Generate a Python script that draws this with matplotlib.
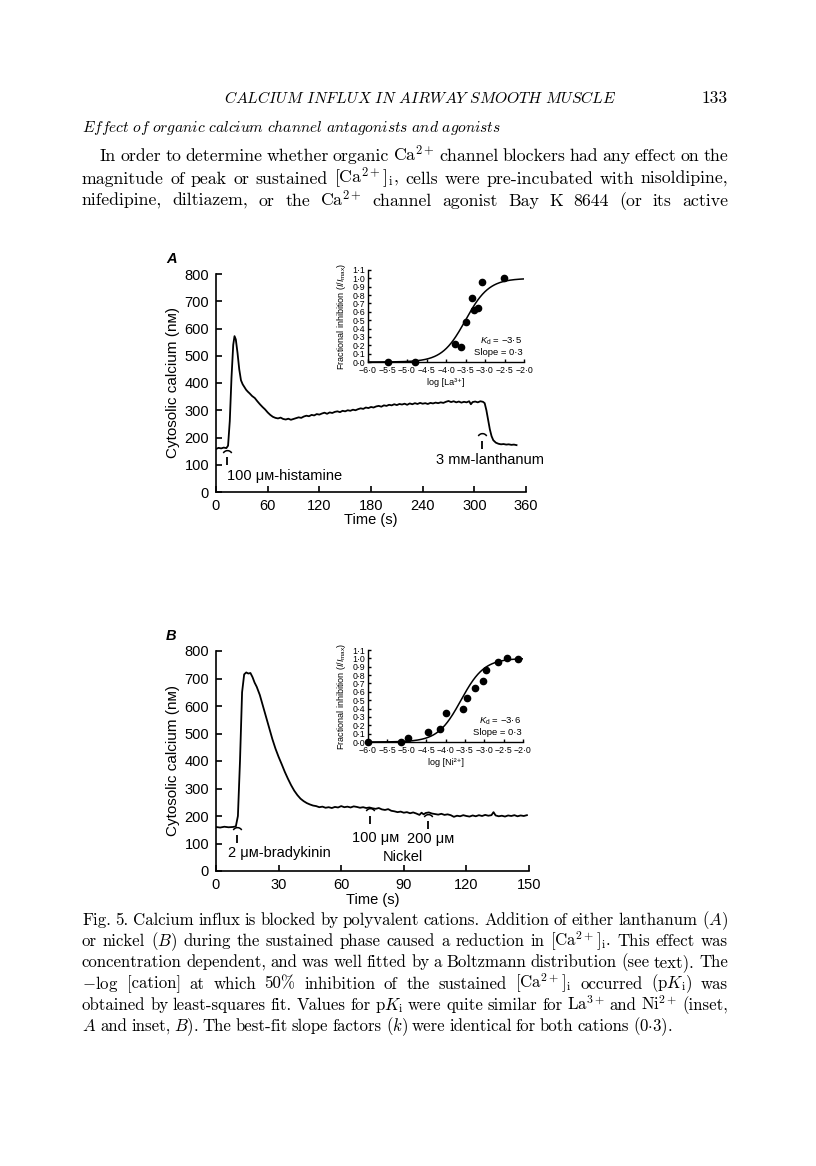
import numpy as np
import matplotlib.pyplot as plt
from matplotlib.path import Path

# ---- panel A trace: 100 uM histamine, then 3 mM lanthanum
tA = [0, 3, 6, 9, 12, 14, 16, 18, 20, 21.5, 23, 25, 27, 29, 31, 33, 35, 37, 39, 42,
      45, 48, 51, 54, 57, 60, 63, 66, 69, 72, 75, 78, 81, 84, 87, 90, 93, 96, 99, 102,
      105, 108, 111, 114, 117, 120, 123, 126, 129, 132, 135, 138, 141, 144, 147, 150,
      153, 156, 159, 162, 165, 168, 171, 174, 177, 180, 183, 186, 189, 192, 195, 198,
      201, 204, 207, 210, 213, 216, 219, 222, 225, 228, 231, 234, 237, 240, 243, 246,
      249, 252, 255, 258, 261, 264, 267, 270, 273, 276, 279, 282, 285, 288, 291, 294,
      296, 298, 301, 304, 307, 310, 312, 314, 316, 318, 320, 322, 325, 328, 331, 334,
      337, 340, 343, 346, 349]
cA = [158, 162, 160, 163, 161, 170, 260, 420, 540, 572, 560, 510, 450, 410, 395, 385,
      375, 368, 362, 352, 345, 333, 322, 312, 303, 292, 283, 276, 272, 270, 273, 268,
      266, 269, 265, 268, 271, 274, 272, 277, 280, 278, 283, 281, 286, 284, 288, 291,
      287, 292, 290, 294, 296, 293, 298, 296, 300, 298, 302, 300, 304, 307, 305, 310,
      308, 312, 310, 314, 316, 313, 318, 316, 320, 318, 322, 319, 323, 321, 324, 320,
      325, 322, 326, 323, 327, 324, 326, 323, 327, 325, 328, 326, 329, 327, 331, 334,
      330, 333, 329, 332, 328, 331, 329, 333, 322, 330, 332, 329, 333, 331, 326, 300,
      265, 230, 205, 190, 181, 177, 175, 176, 174, 175, 173, 174, 172]

# ---- panel B trace: 2 uM bradykinin, then 100 / 200 uM nickel
tB = [0, 2, 4, 6, 8, 9.5, 10.5, 11.5, 12.5, 13.5, 14.5, 15.5, 16.5, 17.5, 18.5, 19.5,
      21, 22.5, 24, 25.5, 27, 28.5, 30, 31.5, 33, 34.5, 36, 37.5, 39, 40.5, 42, 43.5,
      45, 46.5, 48, 49.5, 51, 52.5, 54, 55.5, 57, 58.5, 60, 61.5, 63, 64.5, 66, 67.5,
      69, 70.5, 72, 73.5, 75, 76.5, 78, 79.5, 81, 82.5, 84, 85.5, 87, 88.5, 90, 91.5,
      93, 94.5, 96, 97.5, 98.5, 99.5, 100.5, 102, 103.5, 105, 106.5, 108, 109.5, 111,
      112.5, 114, 115.5, 117, 118.5, 120, 121.5, 123, 124.5, 126, 127.5, 129, 130.5,
      132, 133, 134, 135.5, 137, 138.5, 140, 141.5, 143, 144.5, 146, 147.5, 149]
cB = [160, 158, 161, 159, 160, 162, 200, 400, 650, 715, 722, 718, 720, 705, 685, 670,
      640, 600, 560, 520, 480, 445, 415, 388, 360, 335, 312, 292, 276, 263, 254, 247,
      242, 238, 236, 232, 234, 230, 232, 229, 233, 231, 236, 232, 234, 231, 235, 233,
      230, 232, 229, 231, 228, 226, 229, 224, 222, 225, 219, 217, 214, 216, 212, 214,
      210, 213, 209, 204, 212, 206, 211, 213, 209, 207, 205, 208, 204, 206, 203, 197,
      201, 199, 203, 200, 198, 202, 199, 203, 200, 204, 201, 203, 214, 202, 199, 201,
      198, 202, 200, 203, 199, 202, 200, 203]

# ---- insets: fractional inhibition vs log [cation]
laX = [-5.5, -4.8, -3.78, -3.62, -3.48, -3.33, -3.27, -3.19, -3.08, -2.52]
laY = [0.0, 0.0, 0.22, 0.18, 0.48, 0.77, 0.62, 0.65, 0.96, 1.0]
niX = [-6.0, -5.15, -4.97, -4.45, -4.13, -3.98, -3.55, -3.44, -3.24, -3.03, -2.95,
       -2.65, -2.42, -2.13]
niY = [0.0, 0.0, 0.05, 0.12, 0.16, 0.35, 0.40, 0.53, 0.65, 0.73, 0.86, 0.96, 1.0, 0.99]
kdA, kdB, slope = -3.5, -3.6, 0.3

# stimulus markers (time, caret level)
arrowsA = [(13, 136), (309, 198)]
arrowsB = [(10, 142), (74, 210), (101.5, 190)]

W, H = 816, 1166
SANS = ['Liberation Sans', 'DejaVu Sans']
plt.rcParams['font.family'] = SANS
plt.rcParams['mathtext.fontset'] = 'custom'
plt.rcParams['mathtext.rm'] = 'Liberation Sans'
plt.rcParams['mathtext.it'] = 'Liberation Sans:italic'

fig = plt.figure(figsize=(W / 100, H / 100), dpi=100)


def px_axes(left, top, right, bottom):
    return fig.add_axes([left / W, 1 - bottom / H, (right - left) / W, (bottom - top) / H])


def clean(ax, lw, tlen, size, pad):
    ax.spines['top'].set_visible(False)
    ax.spines['right'].set_visible(False)
    ax.spines['left'].set_linewidth(lw)
    ax.spines['bottom'].set_linewidth(lw)
    ax.tick_params(direction='in', length=tlen, width=lw, labelsize=size, pad=pad)
    ax.patch.set_alpha(0)


cap = Path.arc(30, 150)


def stim(ax, arrows):
    for t, v in arrows:
        ax.plot([t], [v], marker=cap, ms=7, mew=1.1, color='black', fillstyle='none')
        ax.plot([t], [v - 24], marker='|', ms=5.5, mew=1.3, color='black')


def trace_panel(box, t, c, xmax, xstep, letter, arrows, labels, lab_x, time_y):
    ax = px_axes(*box)
    ax.plot(t, c, color='black', lw=1.3)
    ax.set_xlim(0, xmax)
    ax.set_ylim(0, 800)
    ax.set_xticks(np.arange(0, xmax + 1, xstep))
    ax.set_yticks(np.arange(0, 801, 100))
    clean(ax, 1.2, 4, 10.5, 5)
    stim(ax, arrows)
    for x, y, s in labels:
        ax.text(x, y, s, fontsize=10.5, va='center', ha='left')
    ax.text(lab_x, 0.5, 'Cytosolic calcium (nᴍ)', rotation=90, fontsize=11,
            ha='center', va='center', transform=ax.transAxes)
    ax.text(0.5, time_y, 'Time (s)', fontsize=10.5, ha='center', va='center',
            transform=ax.transAxes)
    ax.text(-0.16, 1.05, letter, fontsize=10.5, style='italic', fontweight='bold',
            transform=ax.transAxes)
    return ax


def inset(box, xs, ys, kd, ion):
    ax = px_axes(*box)
    xf = np.linspace(-6, -2, 200)
    ax.plot(xf, 1 / (1 + np.exp((kd - xf) / slope)), color='black', lw=1.1)
    ax.plot(xs, ys, 'o', color='black', ms=4.5, clip_on=False)
    ax.set_xlim(-6, -2)
    ax.set_ylim(0, 1.1)
    xt = np.arange(-6, -1.99, 0.5)
    yt = np.arange(0, 1.11, 0.1)
    ax.set_xticks(xt)
    ax.set_xticklabels([('%.1f' % v).replace('-', '−').replace('.', '·') for v in xt])
    ax.set_yticks(yt)
    ax.set_yticklabels([('%.1f' % v).replace('.', '·') for v in yt])
    clean(ax, 1.0, 2, 6.3, 2)
    ax.tick_params(axis='x', pad=3)
    ax.set_xlabel('log [%s]' % ion, fontsize=6.5, labelpad=2)
    ax.set_ylabel(r'Fractional inhibition ($I/I_{\rm max}$)', fontsize=6.5, labelpad=3)
    ax.text(0.99, 0.23, r'$K_{\rm d}$ = −%s' % ('%.1f' % -kd).replace('.', '·'),
            fontsize=6.8, ha='right', va='center', transform=ax.transAxes)
    ax.text(0.99, 0.10, 'Slope = %s' % ('%.1f' % slope).replace('.', '·'),
            fontsize=6.8, ha='right', va='center', transform=ax.transAxes)
    return ax


trace_panel((216, 274, 526, 492), tA, cA, 360, 60, 'A', arrowsA,
            [(13, 58, '100 μᴍ-histamine'), (256, 117, '3 mᴍ-lanthanum')], -0.139, -0.13)
trace_panel((216, 651, 529, 871), tB, cB, 150, 30, 'B', arrowsB,
            [(5.7, 65, '2 μᴍ-bradykinin'), (65, 120, '100 μᴍ'), (91.5, 116, '200 μᴍ'),
             (80, 51, 'Nickel')], -0.137, -0.13)
inset((368, 270, 524, 362), laX, laY, kdA, 'La³⁺')
inset((368, 650, 523, 742), niX, niY, kdB, 'Ni²⁺')

# ---- page text (serif, Computer Modern look)
renderer = fig.canvas.get_renderer()


def put_line(ypx, text, x0=82, x1=728, size=12.8, justify=True):
    words = text.split(' ')
    arts = [fig.text(0, 1 - ypx / H, w, fontsize=size, family='cmr10', va='baseline',
                     math_fontfamily='cm') for w in words]
    widths = [a.get_window_extent(renderer).width for a in arts]
    if justify and len(words) > 1:
        gap = (x1 - x0 - sum(widths)) / (len(words) - 1)
    else:
        gap = size * 0.33
    x = x0
    for a, w in zip(arts, widths):
        a.set_x(x / W)
        x += w + gap


fig.text(420 / W, 1 - 103 / H, r'$\mathit{CALCIUM\ INFLUX\ IN\ AIRWAY\ SMOOTH\ MUSCLE}$',
         fontsize=11.3, ha='center', va='baseline', math_fontfamily='cm')
fig.text(728 / W, 1 - 103 / H, '133', fontsize=12.5, ha='right', va='baseline',
         family='cmr10')
fig.text(82 / W, 1 - 132 / H,
         r'$\mathit{Effect\ of\ organic\ calcium\ channel\ antagonists\ and\ agonists}$',
         fontsize=11.2, ha='left', va='baseline', math_fontfamily='cm')

put_line(161, r'In order to determine whether organic Ca$^{2+}$ channel blockers had any effect on the', x0=100)
put_line(184, r'magnitude of peak or sustained [Ca$^{2+}$]$_{\mathrm{i}}$, cells were pre-incubated with nisoldipine,')
put_line(206, r'nifedipine, diltiazem, or the Ca$^{2+}$ channel agonist Bay K 8644 (or its active')

cap_lines = [
    r'Fig. 5. Calcium influx is blocked by polyvalent cations. Addition of either lanthanum ($A$)',
    r'or nickel ($B$) during the sustained phase caused a reduction in [Ca$^{2+}$]$_{\mathrm{i}}$. This effect was',
    r'concentration dependent, and was well fitted by a Boltzmann distribution (see text). The',
    r'$-$log [cation] at which 50% inhibition of the sustained [Ca$^{2+}$]$_{\mathrm{i}}$ occurred (p$K_{\mathrm{i}}$) was',
    r'obtained by least-squares fit. Values for p$K_{\mathrm{i}}$ were quite similar for La$^{3+}$ and Ni$^{2+}$ (inset,',
    r'$A$ and inset, $B$). The best-fit slope factors ($k$) were identical for both cations (0$\cdot$3).',
]
for i, line in enumerate(cap_lines):
    put_line(925 + 21.2 * i, line, size=12.1, justify=(i < len(cap_lines) - 1))

fig.savefig('out.png', dpi=100)
